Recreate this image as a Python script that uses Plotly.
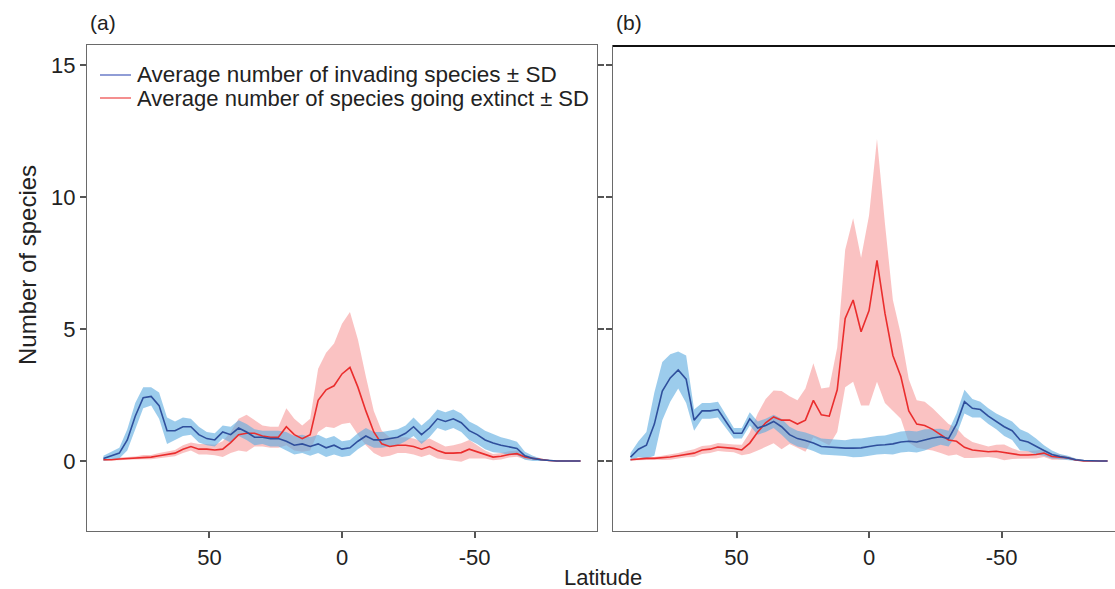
import plotly.graph_objects as go

# Latitude grid (degrees), shared by both panels
lat = list(range(90, -91, -3))

# Panel (a)
inv_mean_a = [0.1, 0.2, 0.3, 0.8, 1.7, 2.4, 2.45, 2.1, 1.15, 1.15, 1.3, 1.3, 1.0, 0.85, 0.8, 1.1,
              1.0, 1.25, 1.1, 0.9, 0.9, 0.85, 0.85, 0.75, 0.6, 0.65, 0.55, 0.65, 0.5, 0.6, 0.45,
              0.5, 0.75, 0.95, 0.8, 0.8, 0.85, 0.9, 1.05, 1.3, 1.0, 1.25, 1.6, 1.5, 1.6, 1.45,
              1.15, 1.0, 0.8, 0.68, 0.6, 0.53, 0.48, 0.2, 0.1, 0.05, 0.02, 0, 0, 0, 0]
inv_sd_a = [0.1, 0.15, 0.2, 0.4, 0.5, 0.4, 0.35, 0.5, 0.5, 0.35, 0.35, 0.3, 0.3, 0.25, 0.25, 0.25,
            0.3, 0.3, 0.3, 0.3, 0.25, 0.3, 0.3, 0.35, 0.35, 0.35, 0.35, 0.35, 0.35, 0.35, 0.3,
            0.3, 0.3, 0.3, 0.3, 0.3, 0.3, 0.3, 0.3, 0.35, 0.35, 0.35, 0.35, 0.35, 0.35, 0.35,
            0.35, 0.35, 0.35, 0.35, 0.3, 0.3, 0.25, 0.15, 0.1, 0.05, 0.03, 0, 0, 0, 0]
ext_mean_a = [0.05, 0.05, 0.08, 0.1, 0.12, 0.15, 0.15, 0.2, 0.25, 0.3, 0.45, 0.55, 0.45, 0.45, 0.42, 0.45,
              0.7, 1.0, 1.05, 1.05, 0.95, 0.9, 0.9, 1.3, 1.0, 0.85, 1.0, 2.3, 2.7, 2.85, 3.3,
              3.55, 2.8, 1.9, 1.1, 0.65, 0.55, 0.6, 0.6, 0.55, 0.45, 0.55, 0.4, 0.3, 0.3, 0.32,
              0.45, 0.35, 0.25, 0.15, 0.18, 0.25, 0.28, 0.15, 0.1, 0.05, 0.02, 0, 0, 0, 0]
ext_sd_a = [0.03, 0.03, 0.05, 0.05, 0.05, 0.08, 0.08, 0.1, 0.1, 0.12, 0.15, 0.15, 0.2, 0.2, 0.2, 0.3,
            0.4, 0.6, 0.7, 0.5, 0.4, 0.4, 0.4, 0.7, 0.6, 0.5, 0.6, 1.2, 1.4, 1.6, 1.9,
            2.1, 1.8, 1.3, 0.8, 0.5, 0.35, 0.3, 0.3, 0.3, 0.3, 0.3, 0.3, 0.25, 0.3, 0.35,
            0.35, 0.25, 0.15, 0.12, 0.12, 0.12, 0.12, 0.08, 0.05, 0.03, 0, 0, 0, 0, 0]

# Panel (b)
inv_mean_b = [0.15, 0.45, 0.6, 1.4, 2.65, 3.15, 3.45, 3.1, 1.55, 1.9, 1.9, 1.95, 1.5, 1.05, 1.05, 1.6,
              1.25, 1.35, 1.5, 1.3, 1.0, 0.85, 0.78, 0.68, 0.55, 0.53, 0.5, 0.49, 0.49, 0.5, 0.55,
              0.6, 0.62, 0.65, 0.72, 0.75, 0.72, 0.8, 0.87, 0.92, 0.85, 1.4, 2.25, 2.0, 1.95, 1.7,
              1.5, 1.3, 1.15, 0.8, 0.72, 0.55, 0.4, 0.25, 0.17, 0.12, 0.05, 0.02, 0, 0, 0]
inv_sd_b = [0.15, 0.3, 0.5, 1.2, 1.1, 0.9, 0.7, 0.9, 0.4, 0.3, 0.3, 0.3, 0.25, 0.2, 0.2, 0.25,
            0.25, 0.25, 0.25, 0.3, 0.3, 0.3, 0.3, 0.3, 0.3, 0.3, 0.3, 0.3, 0.35, 0.35, 0.35,
            0.35, 0.35, 0.4, 0.4, 0.4, 0.4, 0.4, 0.35, 0.3, 0.3, 0.4, 0.45, 0.35, 0.3, 0.3,
            0.3, 0.35, 0.35, 0.4, 0.35, 0.3, 0.2, 0.15, 0.1, 0.08, 0.05, 0.02, 0, 0, 0]
ext_mean_b = [0.05, 0.08, 0.1, 0.1, 0.12, 0.15, 0.2, 0.26, 0.3, 0.42, 0.45, 0.53, 0.5, 0.48, 0.42, 0.68,
              1.1, 1.45, 1.67, 1.55, 1.55, 1.4, 1.55, 2.3, 1.75, 1.7, 2.7, 5.4, 6.1, 4.9, 5.7,
              7.6, 5.6, 4.0, 3.2, 1.9, 1.4, 1.35, 1.2, 1.0, 0.8, 0.75, 0.52, 0.42, 0.38, 0.35,
              0.37, 0.33, 0.28, 0.23, 0.23, 0.25, 0.3, 0.17, 0.15, 0.12, 0.04, 0, 0, 0, 0]
ext_sd_b = [0.03, 0.05, 0.05, 0.05, 0.08, 0.1, 0.1, 0.12, 0.15, 0.15, 0.15, 0.15, 0.15, 0.15, 0.2, 0.4,
            0.7, 0.9, 1.0, 1.1, 0.9, 0.9, 1.2, 1.4, 1.0, 1.1, 1.6, 2.6, 3.1, 2.8, 3.6,
            4.6, 3.4, 2.1, 1.6, 1.2, 0.9, 0.9, 0.8, 0.7, 0.6, 0.5, 0.4, 0.3, 0.25, 0.2,
            0.25, 0.3, 0.2, 0.15, 0.15, 0.15, 0.15, 0.12, 0.1, 0.05, 0.03, 0, 0, 0, 0]

x_ticks = [50, 0, -50]
x_tick_text = ["50", "0", "-50"]
y_ticks = [0, 5, 10, 15]
legend_labels = ["Average number of invading species \u00b1 SD",
                 "Average number of species going extinct \u00b1 SD"]

BLUE_LINE = "#2f4f9c"
BLUE_BAND = "rgba(95,172,225,0.62)"
RED_LINE = "#ea2d2d"
RED_BAND = "rgba(245,120,120,0.45)"
FONT = "Liberation Sans, Arial, sans-serif"

W, H = 1115, 589
def px(x):
    return x / W
def py(y):
    return 1 - y / H

fig = go.Figure()

def add_panel(xa, ya, inv_m, inv_s, ext_m, ext_s):
    for m, s, band in ((ext_m, ext_s, RED_BAND), (inv_m, inv_s, BLUE_BAND)):
        lo = [a - b for a, b in zip(m, s)]
        hi = [a + b for a, b in zip(m, s)]
        fig.add_trace(go.Scatter(x=lat, y=lo, mode="lines", line=dict(width=0),
                                 xaxis=xa, yaxis=ya, showlegend=False, hoverinfo="skip"))
        fig.add_trace(go.Scatter(x=lat, y=hi, mode="lines", line=dict(width=0),
                                 fill="tonexty", fillcolor=band,
                                 xaxis=xa, yaxis=ya, showlegend=False, hoverinfo="skip"))
    fig.add_trace(go.Scatter(x=lat, y=ext_m, mode="lines", line=dict(color=RED_LINE, width=1.6),
                             xaxis=xa, yaxis=ya, showlegend=False))
    fig.add_trace(go.Scatter(x=lat, y=inv_m, mode="lines", line=dict(color=BLUE_LINE, width=1.6),
                             xaxis=xa, yaxis=ya, showlegend=False))

add_panel("x", "y", inv_mean_a, inv_sd_a, ext_mean_a, ext_sd_a)
add_panel("x2", "y2", inv_mean_b, inv_sd_b, ext_mean_b, ext_sd_b)

ydom = [py(531), py(45)]
yrange = [-2.65, 15.76]
axis_common = dict(showgrid=False, zeroline=False, linecolor="#6a6a6a", linewidth=1.3,
                   ticks="outside", ticklen=6, tickwidth=1.5, tickcolor="#555",
                   tickfont=dict(family=FONT, size=22, color="#222"))

fig.update_layout(
    width=W, height=H,
    margin=dict(l=0, r=0, t=0, b=0),
    paper_bgcolor="white", plot_bgcolor="white",
    showlegend=False,
    xaxis=dict(domain=[px(87), px(597)], range=[96.2, -96.2], tickvals=x_ticks, ticktext=x_tick_text,
               showline=True, mirror=True, anchor="y", **axis_common),
    yaxis=dict(domain=ydom, range=yrange, tickvals=y_ticks, showline=True, mirror="ticks",
               anchor="x", **axis_common),
    xaxis2=dict(domain=[px(613), 1.0], range=[96.6, -92.8], tickvals=x_ticks, ticktext=x_tick_text,
                showline=True, mirror=False, anchor="y2", **axis_common),
    yaxis2=dict(domain=ydom, range=yrange, tickvals=y_ticks, showline=True, showticklabels=False,
                anchor="x2", matches="y", **axis_common),
)

shapes = [
    dict(type="line", xref="paper", yref="paper", x0=px(613), x1=1.0, y0=py(46), y1=py(46),
         line=dict(color="#111", width=2)),
    dict(type="line", xref="paper", yref="paper", x0=px(100), x1=px(131), y0=py(75), y1=py(75),
         line=dict(color="#6b7cc8", width=1.5)),
    dict(type="line", xref="paper", yref="paper", x0=px(100), x1=px(131), y0=py(98), y1=py(98),
         line=dict(color="#f06a6a", width=1.5)),
]
fig.update_layout(shapes=shapes)

ann = [
    dict(text=legend_labels[0], x=px(135), y=py(75), xanchor="left", yanchor="middle", size=22.5),
    dict(text=legend_labels[1], x=px(135), y=py(98), xanchor="left", yanchor="middle", size=22),
    dict(text="(a)", x=px(88), y=py(22), xanchor="left", yanchor="middle", size=21),
    dict(text="(b)", x=px(614), y=py(22), xanchor="left", yanchor="middle", size=21),
    dict(text="Latitude", x=px(603), y=py(577), xanchor="center", yanchor="middle", size=22),
    dict(text="Number of species", x=px(27), y=py(265), xanchor="center", yanchor="middle",
         textangle=-90, size=24),
]
for a in ann:
    size = a.pop("size")
    a.update(xref="paper", yref="paper", showarrow=False,
             font=dict(family=FONT, size=size, color="#222"))
fig.update_layout(annotations=ann)

fig.write_html("out.html", config={"displayModeBar": False},
               post_script="document.body.style.margin='0px';document.body.style.overflow='hidden';")
